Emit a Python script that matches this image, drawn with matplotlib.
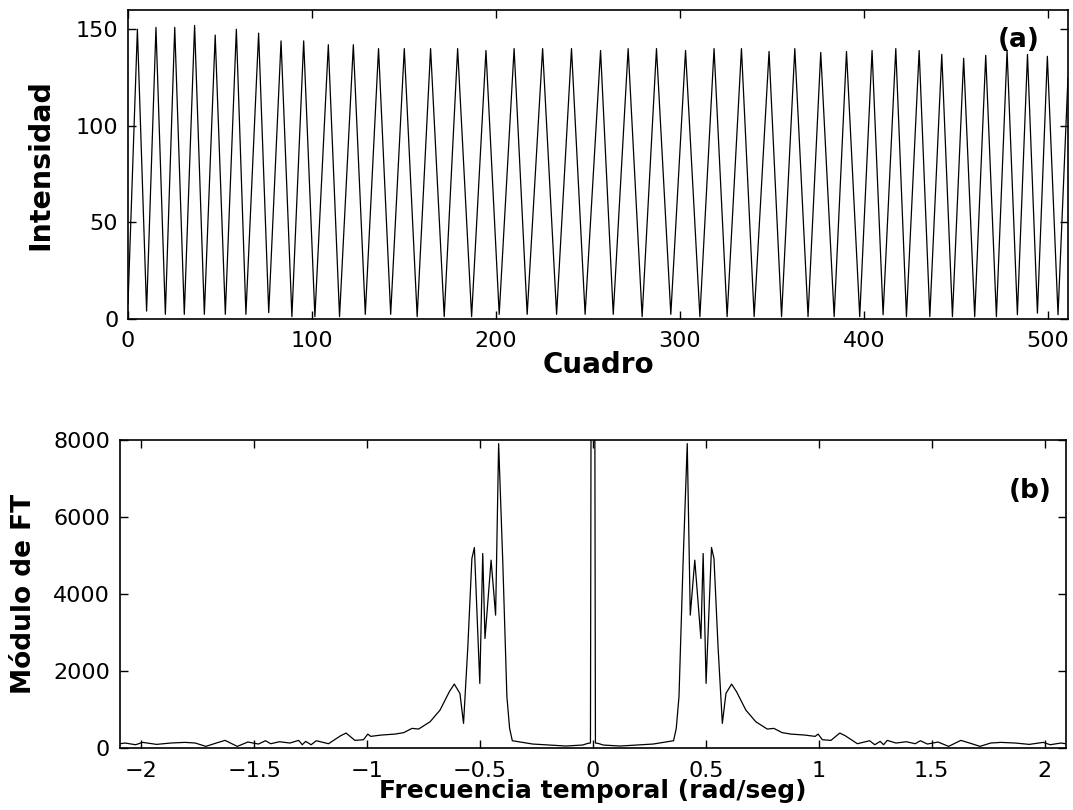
import numpy as np
import matplotlib.pyplot as plt

# (a) intensity per frame: peaks and troughs
peak_frames = [5.1, 15.2, 25.4, 36.2, 47.4, 58.9, 71.0, 83.2, 95.5, 108.9,
               122.5, 136.2, 150.2, 164.5, 179.2, 194.6, 209.9, 225.4, 241.1,
               256.9, 271.9, 287.3, 303.1, 318.6, 333.5, 348.5, 362.5, 376.6,
               390.6, 404.5, 417.4, 430.1, 442.4, 454.3, 466.3, 477.9, 489.0, 499.8]
peak_values = [150, 151, 151, 152, 147, 150, 148, 144, 144, 142,
               142, 140, 140, 140, 140, 139, 140, 140, 140,
               139, 140, 140, 139, 140, 140, 138.5, 140, 138,
               138.5, 139, 140, 139, 137, 135, 136.5, 139, 137, 136]
trough_frames = [10.1, 20.3, 30.6, 41.5, 52.9, 64.1, 76.5, 89.1, 101.6, 115.0,
                 129.0, 142.8, 157.2, 171.9, 186.8, 201.8, 217.0, 233.0, 248.5,
                 263.8, 279.5, 295.1, 310.9, 325.7, 340.4, 355.3, 369.7, 383.9,
                 397.8, 410.5, 423.2, 435.9, 448.2, 460.3, 472.1, 483.5, 494.4, 505.6]
trough_values = [4.1, 2.4, 2.4, 2.4, 2.4, 2.4, 3.3, 1.2, 1.2, 1.2,
                 2.4, 2.4, 1.2, 1.2, 1.2, 2.4, 2.4, 2.4, 2.4,
                 2.4, 1.2, 2.4, 1.2, 1.2, 1.2, 1.2, 1.2, 1.2,
                 1.2, 2.2, 1.2, 1.2, 1.2, 1.2, 1.2, 2.2, 3.0, 2.2]
start_point = (0, 8)
end_point = (511, 125)

# (b) FT modulus, positive half (spectrum of a real signal is symmetric)
freq_pos = [0.022, 0.046, 0.12, 0.193, 0.267, 0.357, 0.369, 0.381, 0.399, 0.4176,
            0.431, 0.451, 0.478, 0.488, 0.501, 0.525, 0.536, 0.554, 0.573, 0.589,
            0.614, 0.636, 0.677, 0.721, 0.772, 0.801, 0.838, 0.876, 0.938, 0.984,
            0.997, 1.016, 1.054, 1.093, 1.117, 1.171, 1.225, 1.248, 1.272, 1.287,
            1.303, 1.342, 1.388, 1.427, 1.450, 1.481, 1.528, 1.575, 1.629, 1.668,
            1.714, 1.761, 1.807, 1.870, 1.932, 1.994, 2.025, 2.072, 2.094]
mag_pos = [122, 78, 52, 78, 104, 190, 511, 1333, 4796, 7912,
           3454, 4883, 2848, 5056, 1680, 5212, 4926, 2631, 641, 1420,
           1662, 1463, 987, 684, 493, 511, 400, 363, 337, 303,
           363, 216, 199, 389, 320, 112, 190, 86, 173, 86,
           199, 130, 164, 112, 190, 104, 156, 43, 199, 130,
           43, 130, 147, 130, 95, 147, 86, 130, 112]
# DC component (goes far above the axis)
freq_dc = [-0.011, 0.0, 0.011]
mag_dc = [130, 36000, 130]

# build the curves
pairs = []
for k in range(len(peak_frames)):
    pairs.append((peak_frames[k], peak_values[k]))
    pairs.append((trough_frames[k], trough_values[k]))
frames = [start_point[0]] + [p[0] for p in pairs] + [end_point[0]]
intensity = [start_point[1]] + [p[1] for p in pairs] + [end_point[1]]

fp = np.array(freq_pos)
mp = np.array(mag_pos)
freq = np.concatenate([-fp[::-1], freq_dc, fp])
mag = np.concatenate([mp[::-1], mag_dc, mp])

plt.rcParams['font.family'] = 'DejaVu Sans'

fig = plt.figure(figsize=(10.73, 8.10), dpi=100)
ax1 = fig.add_axes([0.1193, 0.6062, 0.876, 0.3815])
ax2 = fig.add_axes([0.1118, 0.0765, 0.8816, 0.380])

ax1.plot(frames, intensity, color='black', lw=0.9)
ax1.set_xlim(0, 511)
ax1.set_ylim(0, 160)
ax1.set_xticks([0, 100, 200, 300, 400, 500])
ax1.set_yticks([0, 50, 100, 150])
ax1.set_xlabel('Cuadro', fontsize=20, fontweight='bold', labelpad=0)
ax1.set_ylabel('Intensidad', fontsize=20.5, fontweight='bold')
ax1.yaxis.set_label_coords(-0.078, 0.5)
ax1.text(0.970, 0.903, '(a)', transform=ax1.transAxes, ha='right', va='center',
         fontsize=19, fontweight='bold')

ax2.plot(freq, mag, color='black', lw=0.9)
ax2.set_xlim(-2.0944, 2.0944)
ax2.set_ylim(0, 8000)
ax2.set_xticks([-2, -1.5, -1, -0.5, 0, 0.5, 1, 1.5, 2])
ax2.set_xticklabels(['\u22122', '\u22121.5', '\u22121', '\u22120.5', '0',
                     '0.5', '1', '1.5', '2'])
ax2.set_yticks([0, 2000, 4000, 6000, 8000])
ax2.set_xlabel('Frecuencia temporal (rad/seg)', fontsize=18, fontweight='bold',
               labelpad=-1)
ax2.set_ylabel('Módulo de FT', fontsize=19, fontweight='bold')
ax2.yaxis.set_label_coords(-0.0877, 0.5)
ax2.text(0.985, 0.834, '(b)', transform=ax2.transAxes, ha='right', va='center',
         fontsize=19, fontweight='bold')

for ax in (ax1, ax2):
    ax.tick_params(direction='in', top=True, right=True, length=6, width=1,
                   labelsize=16)
    ax.tick_params(axis='y', pad=7)
    ax.tick_params(axis='x', pad=9)
    for s in ax.spines.values():
        s.set_linewidth(1.2)

fig.savefig('out.png', dpi=100)
